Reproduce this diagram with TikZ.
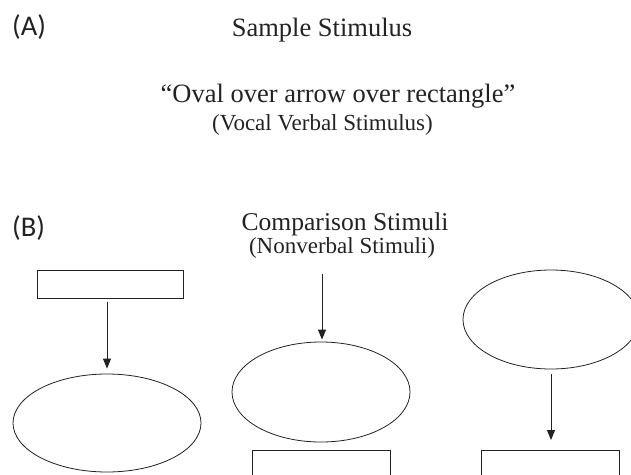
\documentclass[tikz,border=0pt]{standalone}
\usepackage{fontspec}
\setmainfont{Liberation Serif}
\newfontfamily\labelfont{Carlito}
\usetikzlibrary{shapes.geometric,arrows.meta}

\definecolor{ink}{HTML}{222222}

\tikzset{
  panel/.style={font=\labelfont\fontsize{28.5}{30}\selectfont, text=ink, inner sep=0pt, anchor=base west},
  heading/.style={font=\fontsize{26.5}{28}\selectfont, text=ink, inner sep=0pt, anchor=base},
  subheading/.style={font=\fontsize{23}{25}\selectfont, text=ink, inner sep=0pt, anchor=base},
  oval/.style={ellipse, draw=ink, line width=0.8pt, inner sep=0pt},
  box/.style={rectangle, draw=ink, line width=1pt, inner sep=0pt},
  link/.style={draw=ink, line width=1pt, -{Triangle[length=10pt,width=8pt]}},
}

\begin{document}
\begin{tikzpicture}[x=1pt, y=-1pt]
  \useasboundingbox (0,0) rectangle (631,474);
  \clip (0,0) rectangle (631,474);

  % panel labels and titles
  \node[panel] (labA) at (12,35) {(A)};
  \node[heading] (sample) at (322,36) {Sample Stimulus};
  \node[heading] (phrase) at (338,102) {``Oval over arrow over rectangle''};
  \node[subheading] (vocal) at (322.5,130) {(Vocal Verbal Stimulus)};

  \node[panel] (labB) at (12,236) {(B)};
  \node[heading, font=\fontsize{25.6}{27}\selectfont] (comp) at (345,230) {Comparison Stimuli};
  \node[subheading] (nonverbal) at (342,253) {(Nonverbal Stimuli)};

  % left: rectangle over arrow over oval
  \node[box, minimum width=146pt, minimum height=28pt] (lrect) at (110,284) {};
  \node[oval, minimum width=188pt, minimum height=98pt] (loval) at (107,423) {};
  \draw[link, shorten <=3pt, shorten >=5pt] (lrect.south -| loval.north) -- (loval.north);

  % middle: arrow over oval over rectangle
  \coordinate (mtop) at (322,274);
  \node[oval, minimum width=178pt, minimum height=100pt] (moval) at (321,392) {};
  \node[box, minimum width=138pt, minimum height=60pt, anchor=north] (mrect) at (321,450) {};
  \draw[link, shorten >=2pt] (mtop) -- (mtop |- moval.north);

  % right: oval over arrow over rectangle
  \node[oval, minimum width=176pt, minimum height=99pt] (roval) at (551,319.5) {};
  \node[box, minimum width=138pt, minimum height=60pt, anchor=north] (rrect) at (550,450) {};
  \draw[link, shorten <=5pt, shorten >=10pt] (roval.south) -- (roval.south |- rrect.north);
\end{tikzpicture}
\end{document}
